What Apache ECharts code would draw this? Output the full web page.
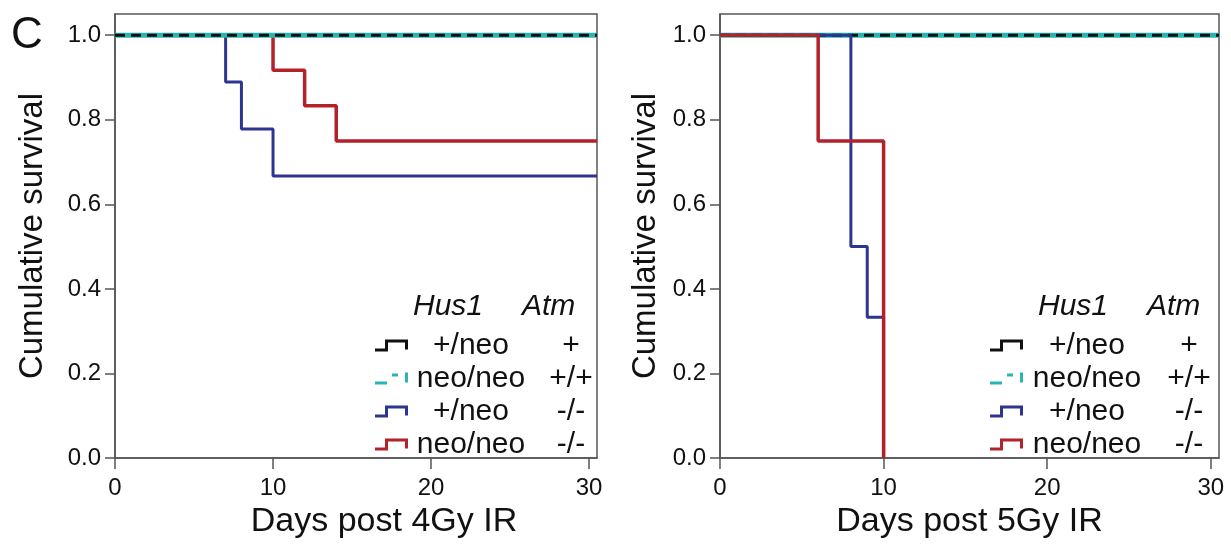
<!DOCTYPE html>
<html>
<head>
<meta charset="utf-8">
<style>
  html, body { margin: 0; padding: 0; background: #fff; }
  #main { width: 1231px; height: 544px; }
</style>
<script src="https://cdn.jsdelivr.net/npm/echarts@6/dist/echarts.min.js"></script>
</head>
<body>
<div id="main"></div>
<script>
// legend labels (Hus1 genotype, Atm genotype)
var hus1Labels = ['+/neo', 'neo/neo', '+/neo', 'neo/neo'];
var atmLabels = ['+', '+/+', '-/-', '-/-'];

// ticks
var dayTicks = [0, 10, 20, 30];
var survTicks = [0, 0.2, 0.4, 0.6, 0.8, 1.0];

// left panel: days post 4Gy IR  [day, cumulative survival]
var ir4HetAtmHet = [[0, 1], [30.5, 1]];
var ir4NeoAtmWt = [[0, 1], [30.5, 1]];
var ir4HetAtmKo = [[0, 1], [7, 0.889], [8, 0.778], [10, 0.667], [30.5, 0.667]];
var ir4NeoAtmKo = [[0, 1], [10, 0.917], [12, 0.833], [14, 0.75], [30.5, 0.75]];

// right panel: days post 5Gy IR
var ir5HetAtmHet = [[0, 1], [30.5, 1]];
var ir5NeoAtmWt = [[0, 1], [30.5, 1]];
var ir5HetAtmKo = [[0, 1], [8, 0.5], [9, 0.333], [10, 0]];
var ir5NeoAtmKo = [[0, 1], [6, 0.75], [10, 0]];

var FONT = "'Liberation Sans', Arial, sans-serif";
var AXIS_COLOR = '#555';
var colors = ['#111111', '#2bb5b2', '#2d3590', '#b3222b'];

var names = [];
for (var i = 0; i < hus1Labels.length; i++) {
  names.push(hus1Labels[i] + ' ' + atmLabels[i]);
}

// step icons for legend
var stepIcon = 'path://M0,9 L10,9 L10,0 L33,0 L33,10 L30,10 L30,3 L13,3 L13,12 L0,12 Z';
var dashIcon = 'path://M0,9 L12,9 L12,12 L0,12 Z M17,1 L23,1 L23,4 L17,4 Z M30,0 L33,0 L33,10 L30,10 Z M0,0 L0,0.1 L0.1,0 Z';

var myChart = echarts.init(document.getElementById('main'));

function makeX(idx, title, pad) {
  return {
    type: 'value',
    gridIndex: idx,
    min: 0,
    max: 30.5,
    name: title,
    nameLocation: 'middle',
    nameGap: 44,
    nameTextStyle: { fontSize: 34, color: '#111', fontFamily: FONT, padding: pad },
    axisLine: { show: true, onZero: false, lineStyle: { color: AXIS_COLOR, width: 1.5 } },
    axisTick: { show: true, length: 11, customValues: dayTicks, lineStyle: { color: AXIS_COLOR, width: 1.5 } },
    axisLabel: { customValues: dayTicks, fontSize: 24, color: '#111', fontFamily: FONT, margin: 18 },
    splitLine: { show: false }
  };
}

function makeY(idx, gap) {
  return {
    type: 'value',
    gridIndex: idx,
    min: 0,
    max: 1.05,
    name: 'Cumulative survival',
    nameLocation: 'middle',
    nameGap: gap,
    nameTextStyle: { fontSize: 33, color: '#111', fontFamily: FONT },
    axisLine: { show: true, onZero: false, lineStyle: { color: AXIS_COLOR, width: 1.5 } },
    axisTick: { show: true, length: 10, customValues: survTicks, lineStyle: { color: AXIS_COLOR, width: 1.5 } },
    axisLabel: {
      customValues: survTicks,
      fontSize: 24, color: '#111', fontFamily: FONT, margin: 14,
      formatter: function (v) { return v.toFixed(1); }
    },
    splitLine: { show: false }
  };
}

function stepLine(name, data, idx, color, width, z, dashed) {
  return {
    name: name,
    type: 'line',
    step: 'end',
    xAxisIndex: idx,
    yAxisIndex: idx,
    data: data,
    showSymbol: false,
    symbol: 'none',
    z: z,
    color: color,
    lineStyle: { color: color, width: width, type: dashed ? [10, 6] : 'solid' }
  };
}

function makeLegend(idx, left, wa, wb) {
  return {
    orient: 'vertical',
    left: left,
    top: 324,
    itemGap: 0,
    itemWidth: 33,
    itemHeight: 13,
    selectedMode: false,
    itemStyle: { borderWidth: 0 },
    data: [
      { name: names[0], icon: stepIcon },
      { name: names[1], icon: dashIcon },
      { name: names[2], icon: stepIcon },
      { name: names[3], icon: stepIcon }
    ],
    formatter: function (name) {
      var k = names.indexOf(name);
      return '{a|' + hus1Labels[k] + '}{b|' + atmLabels[k] + '}';
    },
    textStyle: {
      fontSize: 30, color: '#111', fontFamily: FONT, lineHeight: 33,
      rich: {
        a: { width: wa, align: 'center', fontSize: 30, lineHeight: 33, fontFamily: FONT },
        b: { width: wb, align: 'center', fontSize: 30, lineHeight: 33, fontFamily: FONT }
      }
    }
  };
}

function header(x1, x2) {
  return [
    { type: 'text', left: x1, top: 292, style: { text: 'Hus1', font: 'italic 30px ' + FONT, fill: '#111' } },
    { type: 'text', left: x2, top: 292, style: { text: 'Atm', font: 'italic 30px ' + FONT, fill: '#111' } }
  ];
}

myChart.setOption({
  animation: false,
  backgroundColor: '#fff',
  grid: [
    { left: 115, top: 14, width: 482, height: 446, show: true, borderColor: AXIS_COLOR, borderWidth: 1.5 },
    { left: 720, top: 14, width: 499, height: 446, show: true, borderColor: AXIS_COLOR, borderWidth: 1.5 }
  ],
  xAxis: [makeX(0, 'Days post 4Gy IR', [0, 0, 0, 56]), makeX(1, 'Days post 5Gy IR', [0, 0, 0, 0])],
  yAxis: [makeY(0, 66), makeY(1, 58)],
  legend: [makeLegend(0, 370, 116, 84), makeLegend(1, 985, 118, 86)],
  graphic: [
    { type: 'text', left: 11, top: 14, style: { text: 'C', font: '44px ' + FONT, fill: '#111' } }
  ].concat(header(413, 522)).concat(header(1038, 1147)),
  series: [
    // left panel: KO curves below, flat lines on top
    stepLine(names[2], ir4HetAtmKo, 0, colors[2], 3, 2, false),
    stepLine(names[3], ir4NeoAtmKo, 0, colors[3], 3.5, 3, false),
    stepLine(names[1], ir4NeoAtmWt, 0, colors[1], 5, 4, false),
    stepLine(names[0], ir4HetAtmHet, 0, colors[0], 3, 5, true),
    // right panel: red on top
    stepLine(names[1], ir5NeoAtmWt, 1, colors[1], 5, 2, false),
    stepLine(names[0], ir5HetAtmHet, 1, colors[0], 3, 3, true),
    stepLine(names[2], ir5HetAtmKo, 1, colors[2], 3, 4, false),
    stepLine(names[3], ir5NeoAtmKo, 1, colors[3], 3.5, 5, false)
  ]
});
</script>
</body>
</html>
